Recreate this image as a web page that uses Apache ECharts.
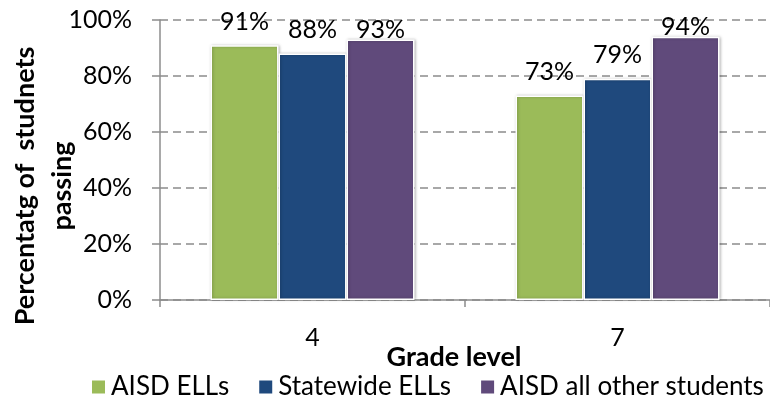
<!DOCTYPE html>
<html>
<head>
<meta charset="utf-8">
<script src="https://cdn.jsdelivr.net/npm/echarts@6/dist/echarts.min.js"></script>
<style>
  html, body { margin: 0; padding: 0; background: #fff; }
  #chart { width: 770px; height: 400px; }
</style>
</head>
<body>
<div id="chart"></div>
<script>
// Grade levels and passing rates (%) for each student group
const grades = ['4', '7'];
const aisdElls = [91, 73];
const statewideElls = [88, 79];
const aisdOthers = [93, 94];
const seriesNames = ['AISD ELLs', 'Statewide ELLs', 'AISD all other students'];
const yTicks = [0, 20, 40, 60, 80, 100];
const yTitleLines = ['Percentatg of  studnets', 'passing'];

const FONT = 'Lato';
const chart = echarts.init(document.getElementById('chart'));

function barSeries(name, values, color, labelDist) {
  return {
    name: name,
    type: 'bar',
    data: values,
    barWidth: 68,
    barGap: '0%',
    itemStyle: {
      color: color,
      borderColor: '#ffffff',
      borderWidth: 1.5,
      shadowColor: 'rgba(0,0,0,0.25)',
      shadowBlur: 3,
      shadowOffsetX: 1
    },
    label: {
      show: true,
      position: 'top',
      distance: labelDist,
      formatter: '{c}%',
      color: '#000',
      fontFamily: FONT,
      fontSize: 25
    }
  };
}

// rotated two-line y-axis title
function yTitleText(text, x) {
  return {
    type: 'text',
    x: x,
    y: 186,
    rotation: Math.PI / 2,
    style: {
      text: text,
      fontFamily: FONT,
      fontSize: 27,
      fontWeight: 'bold',
      fill: '#000',
      align: 'center',
      verticalAlign: 'middle'
    }
  };
}

chart.setOption({
  animation: false,
  textStyle: { fontFamily: FONT },
  grid: { left: 160, top: 20, width: 618, height: 280, containLabel: false },
  legend: {
    data: seriesNames,
    top: 374,
    left: 90,
    padding: 0,
    icon: 'rect',
    itemWidth: 15,
    itemHeight: 15,
    itemGap: 28,
    textStyle: { fontFamily: FONT, fontSize: 26, color: '#000' }
  },
  graphic: [yTitleText(yTitleLines[0], 25), yTitleText(yTitleLines[1], 62)],
  xAxis: {
    type: 'category',
    data: grades,
    name: 'Grade level',
    nameLocation: 'middle',
    nameGap: 44,
    nameMoveOverlap: false,
    nameTextStyle: { fontFamily: FONT, fontSize: 27, fontWeight: 'bold', color: '#000', padding: [0, 22, 0, 0] },
    axisLine: { lineStyle: { color: '#8c8c8c', width: 1.5 } },
    axisTick: { show: true, length: 7, lineStyle: { color: '#8c8c8c', width: 1.5 } },
    axisLabel: { color: '#000', fontFamily: FONT, fontSize: 25, margin: 25 }
  },
  yAxis: {
    type: 'value',
    min: yTicks[0],
    max: yTicks[yTicks.length - 1],
    interval: 20,
    axisLine: { show: true, lineStyle: { color: '#8c8c8c', width: 1.5 } },
    axisTick: { show: true, length: 8, lineStyle: { color: '#8c8c8c', width: 1.5 } },
    axisLabel: { color: '#000', fontFamily: FONT, fontSize: 25, margin: 28, formatter: '{value}%' },
    splitLine: { lineStyle: { color: '#8c8c8c', width: 1.5, type: [8, 5] } }
  },
  series: [
    barSeries(seriesNames[0], aisdElls, '#9BBB59', 11),
    barSeries(seriesNames[1], statewideElls, '#1F497D', 11),
    barSeries(seriesNames[2], aisdOthers, '#604A7B', -3)
  ]
});
</script>
</body>
</html>
